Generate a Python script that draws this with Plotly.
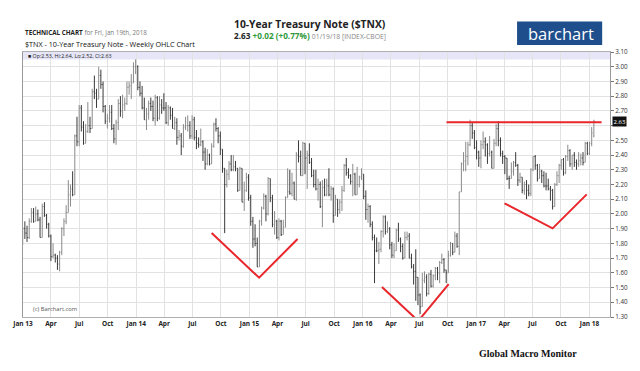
import plotly.graph_objects as go
import pandas as pd

# ---------------- data (weekly OHLC of $TNX) ----------------
first_week = "2012-12-31"   # Monday of the first weekly bar

opens = [
    # 2013
    1.80,1.90,1.87,1.84,1.95,2.01,1.95,2.00,1.96,1.84,2.05,1.99,1.93,1.85,1.71,1.72,1.70,1.66,1.74,1.90,1.95,2.01,2.13,2.17,2.13,2.53,
    2.49,2.72,2.59,2.48,2.56,2.60,2.58,2.83,2.82,2.78,2.94,2.88,2.73,2.63,2.65,2.69,2.58,2.51,2.62,2.75,2.70,2.74,2.75,2.86,2.87,2.89,
    # 2014
    3.00,3.00,2.86,2.82,2.72,2.64,2.68,2.75,2.73,2.65,2.79,2.65,2.74,2.72,2.72,2.62,2.72,2.67,2.58,2.62,2.52,2.53,2.46,2.59,2.60,2.60,
    2.53,2.64,2.52,2.48,2.47,2.49,2.42,2.34,2.40,2.34,2.46,2.61,2.58,2.53,2.44,2.31,2.20,2.27,2.34,2.30,2.32,2.31,2.16,2.31,2.08,2.16,
    # 2015
    2.25,2.11,1.95,1.83,1.80,1.64,1.95,2.04,2.12,2.00,2.24,2.11,1.93,1.95,1.84,1.95,1.86,1.91,2.11,2.15,2.14,2.21,2.10,2.40,2.39,2.26,
    2.48,2.38,2.40,2.35,2.26,2.20,2.17,2.20,2.05,2.18,2.13,2.19,2.13,2.17,1.99,2.10,2.03,2.08,2.16,2.33,2.28,2.26,2.22,2.27,2.13,2.20,
    # 2016
    2.25,2.27,2.12,2.03,2.05,1.93,1.84,1.75,1.75,1.76,1.88,1.98,1.88,1.90,1.79,1.72,1.75,1.89,1.83,1.78,1.70,1.84,1.85,1.70,1.64,1.61,
    1.57,1.45,1.37,1.55,1.57,1.46,1.59,1.51,1.58,1.63,1.60,1.67,1.69,1.62,1.60,1.72,1.80,1.74,1.85,1.78,2.15,2.34,2.36,2.39,2.47,2.60,2.55,
    # 2017
    2.45,2.42,2.38,2.47,2.49,2.47,2.41,2.42,2.31,2.48,2.58,2.50,2.41,2.39,2.38,2.24,2.24,2.29,2.35,2.33,2.23,2.25,2.16,2.20,2.16,2.14,
    2.30,2.39,2.33,2.24,2.29,2.26,2.19,2.19,2.17,2.16,2.05,2.20,2.26,2.33,2.37,2.28,2.39,2.43,2.34,2.40,2.35,2.34,2.36,2.38,2.35,2.48,
    # 2018
    2.41,2.48,2.53,
]

highs = [
    1.91,1.95,1.92,1.97,2.04,2.04,2.05,2.03,1.98,2.07,2.08,2.00,1.94,1.86,1.80,1.73,1.72,1.75,1.91,1.97,2.06,2.23,2.20,2.29,2.54,2.66,
    2.74,2.74,2.63,2.61,2.76,2.66,2.85,2.94,2.85,3.00,2.98,2.90,2.74,2.68,2.74,2.74,2.61,2.64,2.78,2.80,2.81,2.79,2.90,2.90,2.95,3.03,
    3.05,3.01,2.90,2.87,2.79,2.72,2.77,2.79,2.77,2.81,2.80,2.80,2.78,2.82,2.76,2.74,2.73,2.72,2.66,2.65,2.57,2.55,2.61,2.66,2.67,2.63,
    2.67,2.66,2.57,2.52,2.58,2.50,2.45,2.44,2.41,2.48,2.62,2.65,2.59,2.56,2.44,2.31,2.30,2.36,2.40,2.40,2.36,2.31,2.32,2.31,2.22,2.28,
    2.27,2.13,1.98,1.93,1.84,1.96,2.05,2.14,2.13,2.25,2.24,2.13,2.02,1.96,1.97,1.96,1.96,2.12,2.31,2.30,2.28,2.22,2.42,2.50,2.43,2.49,
    2.48,2.43,2.48,2.38,2.30,2.30,2.24,2.22,2.23,2.24,2.24,2.31,2.19,2.18,2.13,2.10,2.10,2.19,2.34,2.38,2.31,2.27,2.34,2.28,2.32,2.26,
    2.31,2.27,2.16,2.07,2.06,1.95,1.86,1.84,1.81,1.89,1.99,1.99,1.95,1.91,1.81,1.80,1.90,1.94,1.84,1.80,1.88,1.88,1.87,1.73,1.66,1.76,
    1.57,1.46,1.60,1.61,1.59,1.60,1.62,1.59,1.64,1.64,1.68,1.73,1.70,1.62,1.75,1.81,1.80,1.88,1.87,2.15,2.35,2.42,2.49,2.49,2.64,2.62,2.57,
    2.50,2.43,2.50,2.56,2.52,2.48,2.53,2.43,2.51,2.61,2.63,2.52,2.43,2.40,2.38,2.26,2.35,2.36,2.42,2.34,2.28,2.25,2.22,2.23,2.20,2.31,
    2.39,2.40,2.34,2.34,2.30,2.29,2.28,2.24,2.19,2.17,2.21,2.29,2.34,2.37,2.38,2.40,2.47,2.44,2.40,2.42,2.37,2.42,2.41,2.42,2.49,2.49,
    2.49,2.59,2.64,
]

lows = [
    1.79,1.83,1.81,1.83,1.94,1.94,1.95,1.95,1.84,1.84,1.98,1.90,1.84,1.68,1.70,1.67,1.62,1.61,1.72,1.85,1.93,2.01,2.05,2.12,2.13,2.46,
    2.46,2.56,2.47,2.48,2.55,2.55,2.58,2.78,2.72,2.78,2.85,2.69,2.61,2.58,2.62,2.57,2.48,2.47,2.57,2.66,2.65,2.70,2.74,2.81,2.78,2.89,
    2.95,2.84,2.80,2.71,2.64,2.57,2.64,2.70,2.63,2.60,2.63,2.64,2.68,2.70,2.61,2.60,2.64,2.58,2.57,2.47,2.50,2.40,2.45,2.57,2.56,2.51,
    2.51,2.50,2.44,2.45,2.46,2.36,2.30,2.33,2.33,2.34,2.45,2.56,2.48,2.40,2.28,1.87,2.18,2.23,2.29,2.29,2.29,2.15,2.16,2.08,2.02,2.15,
    2.09,1.92,1.77,1.78,1.64,1.64,1.92,2.03,1.95,1.99,2.08,1.91,1.86,1.83,1.82,1.85,1.86,1.91,2.11,2.13,2.12,2.10,2.09,2.35,2.26,2.26,
    2.27,2.17,2.34,2.25,2.18,2.16,2.09,2.04,1.91,2.12,2.12,2.12,2.09,1.94,1.99,1.98,2.00,2.02,2.15,2.26,2.24,2.20,2.12,2.13,2.13,2.18,
    2.23,2.10,1.96,1.94,1.91,1.82,1.53,1.74,1.66,1.74,1.84,1.86,1.87,1.76,1.70,1.70,1.75,1.81,1.74,1.69,1.70,1.82,1.70,1.63,1.52,1.41,
    1.38,1.32,1.37,1.53,1.44,1.45,1.50,1.50,1.55,1.55,1.53,1.66,1.60,1.53,1.60,1.71,1.72,1.74,1.77,1.72,2.15,2.29,2.29,2.33,2.46,2.51,2.44,
    2.37,2.32,2.31,2.44,2.39,2.34,2.39,2.31,2.31,2.46,2.46,2.39,2.34,2.27,2.23,2.17,2.24,2.26,2.32,2.19,2.21,2.14,2.13,2.10,2.12,2.12,
    2.29,2.30,2.22,2.24,2.21,2.18,2.16,2.16,2.09,2.03,2.05,2.19,2.21,2.30,2.26,2.27,2.36,2.32,2.30,2.32,2.30,2.32,2.33,2.33,2.35,2.40,
    2.40,2.46,2.52,
]

closes = [
    1.90,1.87,1.84,1.95,2.01,1.95,2.00,1.96,1.84,2.05,1.99,1.93,1.85,1.71,1.72,1.70,1.66,1.74,1.90,1.95,2.01,2.13,2.17,2.13,2.53,2.49,
    2.72,2.59,2.48,2.56,2.60,2.58,2.83,2.82,2.78,2.94,2.88,2.73,2.63,2.65,2.69,2.58,2.51,2.62,2.75,2.70,2.74,2.75,2.86,2.87,2.89,3.00,
    3.00,2.86,2.82,2.72,2.64,2.68,2.75,2.73,2.65,2.79,2.65,2.74,2.72,2.72,2.62,2.72,2.67,2.58,2.62,2.52,2.53,2.46,2.59,2.60,2.60,2.53,
    2.64,2.52,2.48,2.47,2.49,2.42,2.34,2.40,2.34,2.46,2.61,2.58,2.53,2.44,2.31,2.20,2.27,2.34,2.30,2.32,2.31,2.16,2.31,2.08,2.16,2.25,
    2.11,1.95,1.83,1.80,1.64,1.95,2.04,2.12,2.00,2.24,2.11,1.93,1.95,1.84,1.95,1.86,1.91,2.11,2.15,2.14,2.21,2.10,2.40,2.39,2.26,2.48,
    2.38,2.40,2.35,2.26,2.20,2.17,2.20,2.05,2.18,2.13,2.19,2.13,2.17,1.99,2.10,2.03,2.08,2.16,2.33,2.28,2.26,2.22,2.27,2.13,2.20,2.25,
    2.27,2.12,2.03,2.05,1.93,1.84,1.75,1.75,1.76,1.88,1.98,1.88,1.90,1.79,1.72,1.75,1.89,1.83,1.78,1.70,1.84,1.85,1.70,1.64,1.61,1.57,
    1.45,1.37,1.55,1.57,1.46,1.59,1.51,1.58,1.63,1.60,1.67,1.69,1.62,1.60,1.72,1.80,1.74,1.85,1.78,2.15,2.34,2.36,2.39,2.47,2.60,2.55,2.45,
    2.42,2.38,2.47,2.49,2.47,2.41,2.42,2.31,2.48,2.58,2.50,2.41,2.39,2.38,2.24,2.24,2.29,2.35,2.33,2.23,2.25,2.16,2.20,2.16,2.14,2.30,
    2.39,2.33,2.24,2.29,2.26,2.19,2.19,2.17,2.16,2.05,2.20,2.26,2.33,2.37,2.28,2.39,2.43,2.34,2.40,2.35,2.34,2.36,2.38,2.35,2.48,2.41,
    2.48,2.55,2.63,
]

assert len(opens) == len(highs) == len(lows) == len(closes), (len(opens), len(highs), len(lows), len(closes))

# x-axis tick positions and labels
x_tick_dates = ["2013-01-01", "2013-04-01", "2013-07-01", "2013-10-01",
                "2014-01-01", "2014-04-01", "2014-07-01", "2014-10-01",
                "2015-01-01", "2015-04-01", "2015-07-01", "2015-10-01",
                "2016-01-01", "2016-04-01", "2016-07-01", "2016-10-01",
                "2017-01-01", "2017-04-01", "2017-07-01", "2017-10-01",
                "2018-01-01"]
x_tick_labels = ["Jan 13", "Apr", "Jul", "Oct", "Jan 14", "Apr", "Jul", "Oct",
                 "Jan 15", "Apr", "Jul", "Oct", "Jan 16", "Apr", "Jul", "Oct",
                 "Jan 17", "Apr", "Jul", "Oct", "Jan 18"]

# y-axis ticks (2.60 is hidden behind the last-price marker)
y_tick_values = [1.30, 1.40, 1.50, 1.60, 1.70, 1.80, 1.90, 2.00, 2.10, 2.20,
                 2.30, 2.40, 2.50, 2.60, 2.70, 2.80, 2.90, 3.00, 3.10]
y_tick_labels = ["1.30", "1.40", "1.50", "1.60", "1.70", "1.80", "1.90", "2.00", "2.10", "2.20",
                 "2.30", "2.40", "2.50", " ", "2.70", "2.80", "2.90", "3.00", "3.10"]

last_price = 2.63

# hand-drawn red annotation lines (date, value)
v1_dates = ["2014-09-01", "2015-02-01", "2015-06-05"]
v1_values = [1.87, 1.567, 1.83]
v2_dates = ["2016-03-03", "2016-06-28", "2016-10-04"]
v2_values = [1.504, 1.273, 1.524]
v3_dates = ["2017-04-02", "2017-09-04", "2017-12-23"]
v3_values = [2.072, 1.902, 2.133]
neck_dates = ["2016-09-27", "2018-02-09"]
neck_values = [2.622, 2.622]

# ---------------- figure ----------------
W, H = 640, 371
ML, MR, MT, MB = 17, 23, 52, 54
PW, PH = W - ML - MR, H - MT - MB


def px(x):
    return (x - ML) / PW


def py(y):
    return (H - MB - y) / PH


dates = pd.date_range(first_week, periods=len(closes), freq="7D")

fig = go.Figure()
fig.add_trace(go.Ohlc(
    x=dates, open=opens, high=highs, low=lows, close=closes,
    increasing=dict(line=dict(color="#8a8a8a", width=1)),
    decreasing=dict(line=dict(color="#3a3a3a", width=1)),
    tickwidth=0.35, hoverinfo="skip", showlegend=False,
))

RED = "#e8262b"
for xs, ys in [(v1_dates, v1_values), (v2_dates, v2_values),
               (v3_dates, v3_values), (neck_dates, neck_values)]:
    fig.add_trace(go.Scatter(x=xs, y=ys, mode="lines",
                             line=dict(color=RED, width=2),
                             hoverinfo="skip", showlegend=False))

shapes = [
    # lavender legend band at top of plot
    dict(type="rect", xref="paper", yref="paper", x0=0, x1=1, y0=py(59.5), y1=1,
         fillcolor="#e6e6f8", line=dict(width=0), layer="below"),
    # barchart logo box
    dict(type="rect", xref="paper", yref="paper", x0=px(522), x1=px(609), y0=py(45), y1=py(21.5),
         fillcolor="#1f4e8c", line=dict(width=0)),
]

F = "Open Sans"
annotations = [
    dict(x=px(17), y=py(32), xref="paper", yref="paper", xanchor="left", yanchor="middle",
         text="<b>TECHNICAL CHART</b> <span style='color:#7a7a7a'>for Fri, Jan 19th, 2018</span>",
         showarrow=False, font=dict(family=F, size=6.3, color="#222")),
    dict(x=px(17), y=py(44.5), xref="paper", yref="paper", xanchor="left", yanchor="middle",
         text="$TNX - 10-Year Treasury Note - Weekly OHLC Chart",
         showarrow=False, font=dict(family=F, size=7.2, color="#111")),
    dict(x=px(231), y=py(24), xref="paper", yref="paper", xanchor="left", yanchor="middle",
         text="<b>10-Year Treasury Note ($TNX)</b>",
         showarrow=False, font=dict(family=F, size=10.3, color="#222")),
    dict(x=px(231), y=py(35), xref="paper", yref="paper", xanchor="left", yanchor="middle",
         text="<b>2.63</b> <b><span style='color:#2e9a3a'>+0.02 (+0.77%)</span></b> "
              "<span style='font-size:6.8px;color:#888'>01/19/18 [INDEX-CBOE]</span>",
         showarrow=False, font=dict(family=F, size=8.2, color="#222")),
    dict(x=px(566.5), y=py(33), xref="paper", yref="paper", xanchor="center", yanchor="middle",
         text="barchart", showarrow=False, font=dict(family=F, size=16.5, color="white")),
    dict(x=px(20), y=py(56), xref="paper", yref="paper", xanchor="left", yanchor="middle",
         text="■ Op:2.53, Hi:2.64, Lo:2.52, Cl:2.63",
         showarrow=False, font=dict(family=F, size=5.3, color="#222")),
    dict(x=px(25), y=py(309), xref="paper", yref="paper", xanchor="left", yanchor="middle",
         text="(c) Barchart.com", showarrow=False, font=dict(family=F, size=5.8, color="#555")),
    dict(x=px(481), y=py(353), xref="paper", yref="paper", xanchor="left", yanchor="middle",
         text="<b>Global Macro Monitor</b>", showarrow=False,
         font=dict(family="Liberation Serif", size=10, color="#111")),
    dict(x=px(619), y=last_price, xref="paper", yref="y", xanchor="left", yanchor="middle",
         text="%.2f" % last_price, showarrow=False, bgcolor="#111", borderpad=0.5,
         font=dict(family=F, size=6, color="white")),
]

fig.update_layout(
    width=W, height=H,
    margin=dict(l=ML, r=MR, t=MT, b=MB, pad=0),
    paper_bgcolor="white", plot_bgcolor="white",
    showlegend=False,
    shapes=shapes, annotations=annotations,
    xaxis=dict(
        type="date", range=["2013-01-01", "2018-03-08"],
        tickmode="array",
        tickvals=x_tick_dates, ticktext=["<b>%s</b>" % t for t in x_tick_labels],
        tickfont=dict(family=F, size=6.5, color="#222"),
        showgrid=True, gridcolor="#e2e2e2", gridwidth=1,
        showline=True, linecolor="#b0b0b0", mirror=True,
        ticks="", rangeslider=dict(visible=False), zeroline=False,
    ),
    yaxis=dict(
        side="right", range=[1.30, 3.10],
        tickmode="array",
        tickvals=y_tick_values, ticktext=y_tick_labels,
        tickfont=dict(family=F, size=6.3, color="#333"),
        ticks="outside", ticklen=3, tickcolor="#777",
        showgrid=True, gridcolor="#e2e2e2", gridwidth=1,
        showline=True, linecolor="#999", mirror=True, zeroline=False,
    ),
)

fig.write_html("out.html", config={"displayModeBar": False},
               post_script="document.body.style.margin='0';")
